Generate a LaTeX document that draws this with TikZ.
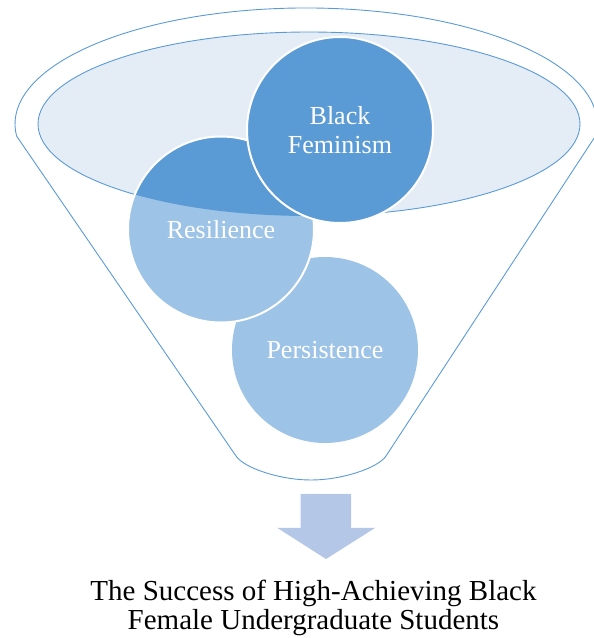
\documentclass[tikz,border=0pt]{standalone}
\usepackage{fontspec}
\setmainfont{Liberation Serif}
\definecolor{darkblue}{HTML}{5B9BD5}
\definecolor{lightblue}{HTML}{9DC3E6}
\definecolor{ellfill}{HTML}{E4ECF6}
\definecolor{arrowblue}{HTML}{B4C7E7}
\tikzset{
  funnelline/.style={draw=darkblue, line width=0.9pt, line join=round},
  circlabel/.style={text=white, align=center, font=\fontsize{26}{29}\selectfont},
  whiteedge/.style={draw=white, line width=2pt},
}
\begin{document}
\begin{tikzpicture}[x=1pt,y=1pt]
\useasboundingbox (0,0) rectangle (594,638);
% outer funnel
\path[funnelline] (16.6,501.9) -- (236,182)
  .. controls (244,170) and (280,158) .. (311,158)
  .. controls (342,158) and (378,170) .. (386,182)
  -- (595.4,501.9) arc[start angle=-6, end angle=186, x radius=291, y radius=116] -- cycle;
% inner ellipse
\path[funnelline, fill=ellfill] (309,514) ellipse[x radius=271, y radius=92];
% Persistence
\path[fill=lightblue] (325,288) circle[radius=93];
\node[circlabel] (pers) at (325,288) {Persistence};
% Resilience
\path[fill=lightblue] (221,408.5) circle[radius=93];
\begin{scope}
  \clip (309,514) ellipse[x radius=271, y radius=92];
  \path[fill=darkblue] (221,408.5) circle[radius=93];
\end{scope}
\path[whiteedge] (221,408.5) circle[radius=93];
\node[circlabel] (res) at (221,408.5) {Resilience};
% Black Feminism
\path[fill=darkblue, whiteedge] (340,508) circle[radius=93];
\node[circlabel] (bf) at (340,508) {Black\\Feminism};
% arrow
\path[fill=arrowblue] (300.5,144) -- (351,144) -- (351,110) -- (375,110) -- (326,79) -- (277.5,110) -- (300.5,110) -- cycle;
% caption
\node[align=center, font=\fontsize{29}{29}\selectfont] (cap) at (313.5,30.5) {The Success of High-Achieving Black\\Female Undergraduate Students};
\end{tikzpicture}
\end{document}
